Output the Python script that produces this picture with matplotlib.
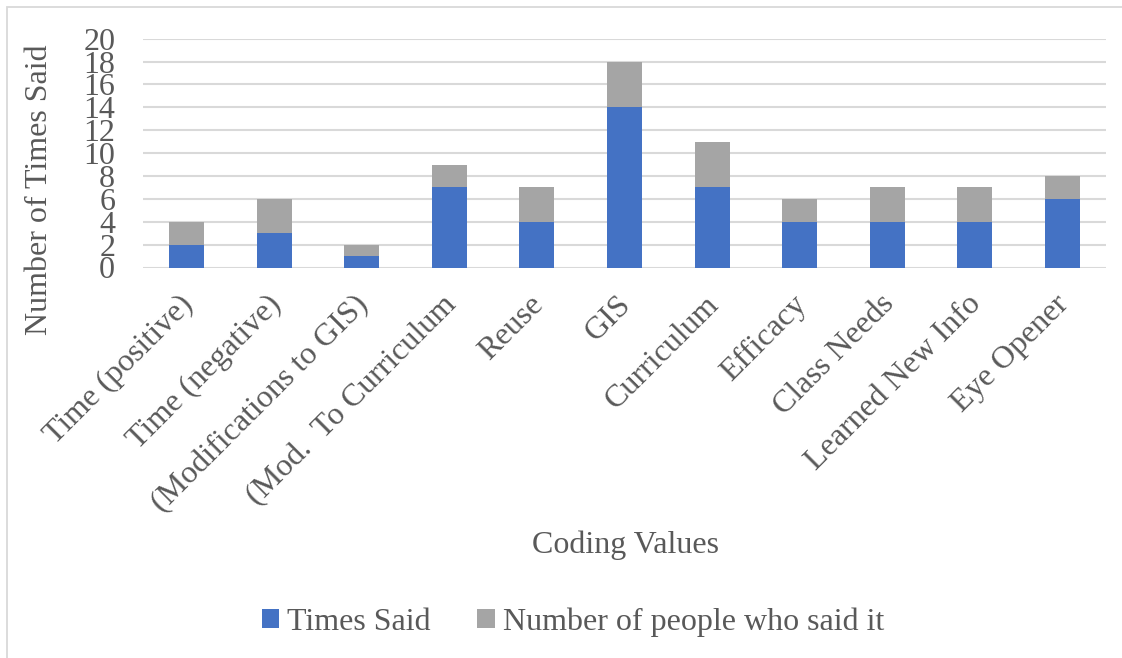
import matplotlib
matplotlib.use("Agg")
import matplotlib.pyplot as plt
from matplotlib.patches import Rectangle
from matplotlib.transforms import ScaledTranslation
import numpy as np

# Coded interview responses
categories = ["Time (positive)", "Time (negative)", "(Modifications to GIS)",
              "(Mod.  To Curriculum", "Reuse", "GIS", "Curriculum", "Efficacy",
              "Class Needs", "Learned New Info", "Eye Opener"]
times_said = [2, 3, 1, 7, 4, 14, 7, 4, 4, 4, 6]
people_said = [2, 3, 1, 2, 3, 4, 4, 2, 3, 3, 2]
y_ticks = list(range(0, 21, 2))

BLUE = "#4472C4"
GREY = "#A5A5A5"
TEXT = "#595959"
GRID = "#D9D9D9"
FONT = ["Liberation Serif", "DejaVu Serif"]
FS = 23

plt.rcParams["font.family"] = FONT

fig = plt.figure(figsize=(11.22, 6.58), dpi=100)
fig.patch.set_facecolor("white")

# chart area frame
fig.add_artist(Rectangle((7 / 1122, -0.05), 1.1, 1 - 7 / 658 + 0.05,
                         transform=fig.transFigure, fill=False,
                         edgecolor=GRID, linewidth=1.3))

ax = fig.add_axes([143 / 1122, 1 - 267.5 / 658, (1106 - 143) / 1122,
                   (267.5 - 38.7) / 658])

x = np.arange(len(categories))
ax.bar(x, times_said, width=0.4, color=BLUE, label="Times Said", zorder=3)
ax.bar(x, people_said, width=0.4, bottom=times_said, color=GREY,
       label="Number of people who said it", zorder=3)

ax.set_xlim(-0.5, len(categories) - 0.5)
ax.set_ylim(0, 20)
ax.set_yticks(y_ticks)
ax.set_yticklabels([str(v) for v in y_ticks])
ax.yaxis.grid(True, color=GRID, linewidth=1.5, zorder=0)
ax.set_axisbelow(True)
for s in ax.spines.values():
    s.set_visible(False)
ax.tick_params(axis="both", length=0, labelsize=FS, labelcolor=TEXT)
ax.tick_params(axis="y", pad=20)
ax.tick_params(axis="x", pad=16)

ax.set_xticks(x)
ax.set_xticklabels(categories, rotation=45, ha="right",
                   rotation_mode="anchor")
shift = ScaledTranslation(-8 / 100, 0, fig.dpi_scale_trans)
for lbl in ax.get_xticklabels():
    lbl.set_transform(lbl.get_transform() + shift)

fig.text(626 / 1122, 1 - 545 / 658, "Coding Values", ha="center",
         va="center", fontsize=FS, color=TEXT)
fig.text(40 / 1122, 1 - 190 / 658, "Number of Times Said", ha="center",
         va="center", rotation=90, fontsize=FS, color=TEXT)

handles, labels = ax.get_legend_handles_labels()
leg = fig.legend(handles, labels, loc="center", ncol=2,
                 bbox_to_anchor=(573 / 1122, 1 - 622 / 658), frameon=False,
                 fontsize=FS, handlelength=0.55, handleheight=0.55,
                 handletextpad=0.25, columnspacing=1.45)
for t in leg.get_texts():
    t.set_color(TEXT)

fig.savefig("out.png", dpi=100, facecolor="white")
